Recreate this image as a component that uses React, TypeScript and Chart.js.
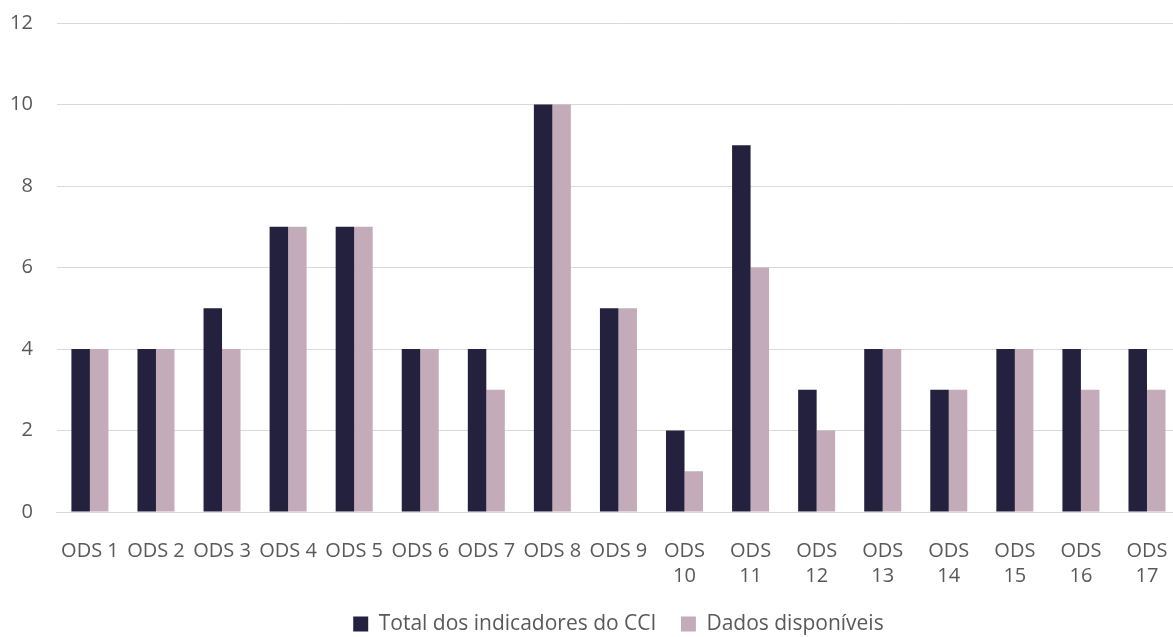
import React, { useEffect, useRef } from "react";
import { Chart, registerables } from "chart.js";

Chart.register(...registerables);

const categories: (string | string[])[] = [
  "ODS 1", "ODS 2", "ODS 3", "ODS 4", "ODS 5", "ODS 6", "ODS 7", "ODS 8", "ODS 9",
  ["ODS", "10"], ["ODS", "11"], ["ODS", "12"], ["ODS", "13"], ["ODS", "14"],
  ["ODS", "15"], ["ODS", "16"], ["ODS", "17"],
];
const totalIndicadores = [4, 4, 5, 7, 7, 4, 4, 10, 5, 2, 9, 3, 4, 3, 4, 4, 4];
const dadosDisponiveis = [4, 4, 4, 7, 7, 4, 3, 10, 5, 1, 6, 2, 4, 3, 4, 3, 3];
const seriesNames = ["Total dos indicadores do CCI", "Dados disponíveis"];

const CANVAS_W = 1200;
const CANVAS_H = 650;

export default function App() {
  const ref = useRef<HTMLCanvasElement>(null);
  useEffect(() => {
    if (!ref.current) return;
    const family = "'Open Sans', sans-serif";
    const chart = new Chart(ref.current, {
      type: "bar",
      data: {
        labels: categories,
        datasets: [
          { label: seriesNames[0], data: totalIndicadores, backgroundColor: "#24213F" },
          { label: seriesNames[1], data: dadosDisponiveis, backgroundColor: "#C4ABBA" },
        ],
      },
      options: {
        animation: false,
        responsive: false,
        maintainAspectRatio: false,
        layout: { padding: 0 },
        datasets: { bar: { barPercentage: 1, categoryPercentage: 0.56 } } as any,
        plugins: {
          legend: {
            position: "bottom",
            fullSize: false,
            maxHeight: 48,
            labels: {
              font: { family, size: 21 },
              color: "#595959",
              boxWidth: 15,
              boxHeight: 15,
              padding: 24.5,
            },
          },
          tooltip: { enabled: false },
        },
        scales: {
          x: {
            grid: { display: false },
            border: { color: "#D9D9D9", width: 1 },
            ticks: {
              font: { family, size: 20, lineHeight: 1.25 },
              color: "#595959",
              maxRotation: 0,
              autoSkip: false,
              padding: 18.5,
            },
            afterFit: (axis: any) => {
              axis.height = 77;
            },
          },
          y: {
            min: 0,
            max: 12,
            ticks: { stepSize: 2, font: { family, size: 20 }, color: "#595959", padding: 24 },
            grid: { color: "#D9D9D9", drawTicks: false },
            border: { display: false },
          },
        },
      },
    });
    return () => chart.destroy();
  }, []);
  return (
    <div style={{ position: "fixed", left: 0, top: 0, width: 1173, height: 637, background: "#fff", overflow: "hidden" }}>
      <canvas
        ref={ref}
        width={CANVAS_W}
        height={CANVAS_H}
        style={{ position: "absolute", left: -14, top: -13 }}
      />
    </div>
  );
}
